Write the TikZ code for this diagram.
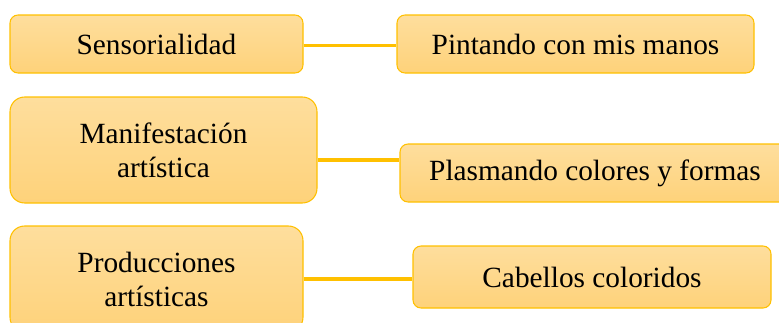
\documentclass[tikz,border=0pt]{standalone}
\usepackage{fontspec}
\setmainfont{Liberation Serif}
\definecolor{boxtop}{HTML}{FEDE9D}
\definecolor{boxbot}{HTML}{FED27A}
\definecolor{gold}{HTML}{FFC000}
\tikzset{
  box/.style={draw=gold, line width=0.8pt, top color=boxtop, bottom color=boxbot,
    rounded corners=6pt, align=center, inner sep=0pt,
    font=\fontsize{22}{25.5}\selectfont, text=black},
  tallbox/.style={box, rounded corners=11pt},
  link/.style={draw=gold, line width=2.3pt}
}
\begin{document}
\begin{tikzpicture}[x=0.75pt,y=-0.75pt]
\clip (0,0) rectangle (779,322);
\node[box, minimum width=219.75pt, minimum height=43.5pt] (sen) at (156.5,44) {Sensorialidad};
\node[box, minimum width=267.75pt, minimum height=43.5pt] (pin) at (575.5,44) {Pintando con mis manos};
\node[tallbox, minimum width=230.25pt, minimum height=79.5pt] (man) at (163.5,150) {Manifestación\\artística};
\node[box, minimum width=292.5pt, minimum height=43.5pt] (pla) at (595,173) {Plasmando colores y formas};
\node[tallbox, minimum width=219.75pt, minimum height=79.5pt] (pro) at (156.5,279) {Producciones\\artísticas};
\node[box, minimum width=268.5pt, minimum height=46.5pt] (cab) at (592,277) {Cabellos coloridos};
\coordinate (y1) at (0,45.5);
\coordinate (y2) at (0,160);
\coordinate (y3) at (0,279);
\draw[link] (sen.east |- y1) -- (pin.west |- y1);
\draw[link] (man.east |- y2) -- (pla.west |- y2);
\draw[link] (pro.east |- y3) -- (cab.west |- y3);
\end{tikzpicture}
\end{document}
